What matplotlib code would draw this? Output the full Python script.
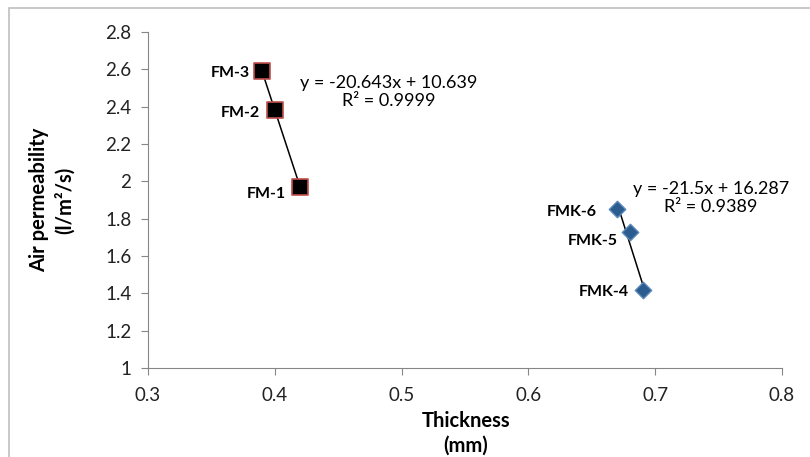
import numpy as np
import matplotlib
matplotlib.use('Agg')
import matplotlib.pyplot as plt
from matplotlib.patches import Rectangle

# FM series (black squares)
fm_names = ['FM-1', 'FM-2', 'FM-3']
fm_x = [0.42, 0.40, 0.39]
fm_y = [1.97, 2.38, 2.59]
fm_eq = 'y = -20.643x + 10.639\nR² = 0.9999'

# FMK series (blue diamonds)
fmk_names = ['FMK-4', 'FMK-5', 'FMK-6']
fmk_x = [0.69, 0.68, 0.67]
fmk_y = [1.42, 1.73, 1.85]
fmk_eq = 'y = -21.5x + 16.287\nR² = 0.9389'

x_ticks = [0.3, 0.4, 0.5, 0.6, 0.7, 0.8]
y_ticks = [1, 1.2, 1.4, 1.6, 1.8, 2, 2.2, 2.4, 2.6, 2.8]

plt.rcParams['font.family'] = ['Lato', 'DejaVu Sans']

fig = plt.figure(figsize=(8.1, 4.57), dpi=100)
ax = fig.add_axes([148 / 810, 1 - 368 / 457, (782 - 148) / 810, (368 - 32) / 457])

gray = '#868686'


def trend(ax, xs, ys):
    k, b = np.polyfit(xs, ys, 1)
    xx = np.array([min(xs), max(xs)])
    ax.plot(xx, k * xx + b, color='black', lw=1.1, zorder=2)


trend(ax, fm_x, fm_y)
trend(ax, fmk_x, fmk_y)

ax.scatter(fm_x, fm_y, marker='s', s=120, color='black',
           edgecolor='#C0504D', linewidth=1.2, zorder=3)
ax.scatter(fmk_x, fmk_y, marker='D', s=70, color='#2B5C8F',
           edgecolor='#5B87BA', linewidth=1.0, zorder=3)

# label offsets in points (dx, dy) per point
fm_off = [(-10, -5), (-11, -2), (-9, -1)]
fmk_off = [(-10, -2), (-9, -7), (-15, -2)]
for n, x, y, o in zip(fm_names, fm_x, fm_y, fm_off):
    ax.annotate(n, (x, y), xytext=o, textcoords='offset points',
                ha='right', va='center', fontsize=11.5, fontweight='bold')
for n, x, y, o in zip(fmk_names, fmk_x, fmk_y, fmk_off):
    ax.annotate(n, (x, y), xytext=o, textcoords='offset points',
                ha='right', va='center', fontsize=11.5, fontweight='bold')

ax.text(0.4896, 2.479, fm_eq, ha='center', va='center', fontsize=13,
        linespacing=1.15)
ax.text(0.744, 1.911, fmk_eq, ha='center', va='center', fontsize=13,
        linespacing=1.15)

ax.set_xlim(0.3, 0.8)
ax.set_ylim(1, 2.8)
ax.set_xticks(x_ticks)
ax.set_yticks(y_ticks)
ax.set_xticklabels([f'{v:g}' for v in x_ticks])
ax.set_yticklabels([f'{v:g}' for v in y_ticks])
ax.tick_params(colors=gray, labelcolor='#222222', labelsize=13.5,
               length=5, direction='out')
ax.tick_params(axis='y', pad=7)
ax.tick_params(axis='x', pad=9)
for s in ['top', 'right']:
    ax.spines[s].set_visible(False)
for s in ['left', 'bottom']:
    ax.spines[s].set_color(gray)

fig.text(466 / 810, 1 - 433 / 457, 'Thickness\n(mm)', ha='center', va='center',
         fontsize=14.5, fontweight='bold', linespacing=1.3)
fig.text(52 / 810, 1 - 200 / 457, 'Air permeability\n(l/m²/s)', ha='center',
         va='center', rotation=90, fontsize=14.5, fontweight='bold',
         linespacing=1.3)

fig.patches.append(Rectangle((9 / 810, -0.05), 1.0, 1 - 8 / 457 + 0.05,
                             transform=fig.transFigure, fill=False,
                             edgecolor='#BFBFBF', lw=1.2))

fig.savefig('out.png', dpi=100)
